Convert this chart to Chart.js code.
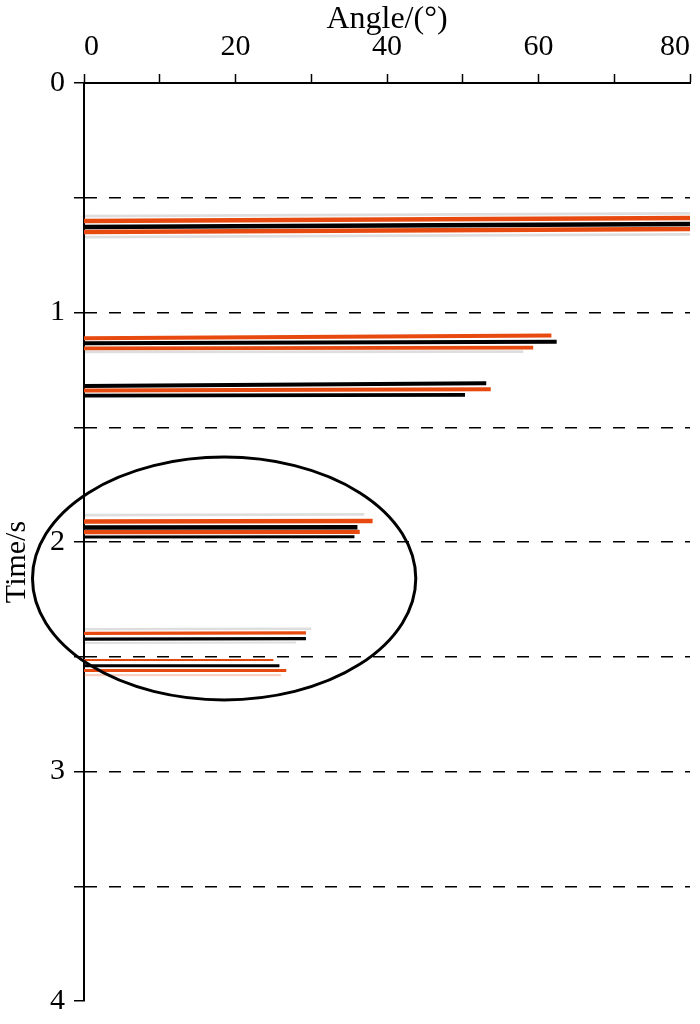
<!DOCTYPE html>
<html lang="en">
<head>
    <meta charset="UTF-8">
    <title>Angle gather</title>
    <style>
        html, body { margin: 0; padding: 0; background: #fff; }
        #wrap { width: 700px; height: 1024px; }
    </style>
</head>
<body>
    <div id="wrap"><canvas id="myChart" width="700" height="1024"></canvas></div>

    <script src="https://cdn.jsdelivr.net/npm/chart.js@4.4.1/dist/chart.umd.min.js"></script>
    <script>
        // Reflection events: time at angle 0, time at far angle, last angle, polarity, amplitude
        var startTimes = [0.601, 0.627, 0.649, 0.580, 0.672,
                          1.112, 1.134, 1.156, 1.172,
                          1.320, 1.340, 1.362,
                          1.883, 1.911, 1.937, 1.957, 1.978,
                          2.380, 2.398, 2.423, 2.440,
                          2.514, 2.539, 2.560, 2.580];
        var endTimes   = [0.588, 0.614, 0.636, 0.568, 0.660,
                          1.100, 1.127, 1.153, 1.170,
                          1.308, 1.334, 1.359,
                          1.880, 1.909, 1.936, 1.956, 1.977,
                          2.378, 2.396, 2.421, 2.438,
                          2.514, 2.539, 2.560, 2.580];
        var endAngles  = [80, 80, 80, 80, 80,
                          61.7, 62.4, 59.3, 58,
                          53.1, 53.7, 50.3,
                          37, 38.1, 36.1, 36.4, 35.7,
                          30, 29.3, 29.3, 28,
                          25, 25.8, 26.7, 26];
        // 1 = positive (red), -1 = negative (black), 0 = faint side lobe
        var polarity   = [1, -1, 1, 0, 0,
                          1, -1, 1, 0,
                          -1, 1, -1,
                          0, 1, -1, 1, -1,
                          0, 1, -1, 0,
                          1, -1, 1, 0];
        var amplitude  = [1, 1, 1, 0.5, 0.5,
                          0.85, 0.85, 0.8, 0.5,
                          0.85, 0.85, 0.8,
                          0.5, 1, 1, 0.9, 0.6,
                          0.4, 0.6, 0.6, 0.3,
                          0.3, 0.6, 0.6, 0.3];

        // axis ticks
        var angleTicks = [0, 20, 40, 60, 80];
        var timeTicks = [0, 1, 2, 3, 4];
        var dashedTimes = [0.5, 1, 1.5, 2, 2.5, 3, 3.5];

        // highlighted region: centre angle, centre time, angle radius, time radius
        var ellipse = [18.5, 2.159, 25.3, 0.529];

        var redColor = '#e8490f';
        var fontFamily = '"Liberation Serif", "Times New Roman", serif';

        var datasets = [];
        for (var i = 0; i < startTimes.length; i++) {
            var col = polarity[i] > 0 ? redColor : (polarity[i] < 0 ? '#000000' : 'rgba(0,0,0,0.13)');
            if (polarity[i] === 0 && i >= 21) col = 'rgba(232,73,15,0.25)';
            datasets.push({
                data: [{ x: 0, y: startTimes[i] }, { x: endAngles[i], y: endTimes[i] }],
                showLine: true,
                borderColor: col,
                borderWidth: 1 + 3.5 * amplitude[i],
                pointRadius: 0,
                borderCapStyle: 'butt',
                fill: false
            });
        }

        var overlayPlugin = {
            id: 'overlay',
            afterDatasetsDraw: function (chart) {
                var xs = chart.scales.x, ys = chart.scales.y;
                var cx = xs.getPixelForValue(ellipse[0]);
                var cy = ys.getPixelForValue(ellipse[1]);
                var rx = xs.getPixelForValue(ellipse[0] + ellipse[2]) - cx;
                var ry = ys.getPixelForValue(ellipse[1] + ellipse[3]) - cy;
                var ctx = chart.ctx;
                ctx.save();
                ctx.beginPath();
                ctx.ellipse(cx, cy, Math.abs(rx), Math.abs(ry), 0, 0, Math.PI * 2);
                ctx.lineWidth = 3;
                ctx.strokeStyle = '#000';
                ctx.stroke();

                // y axis title, a little below the middle like the original
                ctx.translate(17, 562);
                ctx.rotate(-Math.PI / 2);
                ctx.font = '30px ' + fontFamily;
                ctx.fillStyle = '#000';
                ctx.textAlign = 'center';
                ctx.textBaseline = 'middle';
                ctx.fillText('Time/s', 0, 0);
                ctx.restore();
            }
        };

        new Chart(document.getElementById('myChart'), {
            type: 'scatter',
            data: { datasets: datasets },
            plugins: [overlayPlugin],
            options: {
                responsive: false,
                animation: false,
                layout: { padding: { top: 0, left: 0, right: 10, bottom: 23 } },
                plugins: { legend: { display: false }, tooltip: { enabled: false } },
                scales: {
                    x: {
                        type: 'linear',
                        position: 'top',
                        min: 0,
                        max: 80,
                        afterFit: function (scale) {
                            scale.height = 83;
                            scale.paddingLeft = 0;
                            scale.paddingRight = 0;
                        },
                        afterBuildTicks: function (scale) {
                            scale.ticks = [0, 10, 20, 30, 40, 50, 60, 70, 80].map(function (v) { return { value: v }; });
                        },
                        ticks: {
                            color: '#000',
                            padding: 9,
                            maxRotation: 0,
                            align: 'inner',
                            font: { family: fontFamily, size: 30 },
                            callback: function (v) { return angleTicks.indexOf(v) >= 0 ? String(v) : ''; }
                        },
                        grid: {
                            drawOnChartArea: false,
                            drawTicks: true,
                            tickLength: 9,
                            tickColor: '#000',
                            tickWidth: 1.5
                        },
                        border: { display: true, color: '#000', width: 2 },
                        title: {
                            display: true,
                            text: 'Angle/(°)',
                            color: '#000',
                            padding: { top: 0, bottom: 0 },
                            font: { family: fontFamily, size: 32 }
                        }
                    },
                    y: {
                        type: 'linear',
                        reverse: true,
                        min: 0,
                        max: 4,
                        afterFit: function (scale) {
                            scale.width = 84;
                            scale.paddingTop = 0;
                            scale.paddingBottom = 0;
                        },
                        afterBuildTicks: function (scale) {
                            scale.ticks = [0, 0.5, 1, 1.5, 2, 2.5, 3, 3.5, 4].map(function (v) { return { value: v }; });
                        },
                        ticks: {
                            color: '#000',
                            padding: 9,
                            font: { family: fontFamily, size: 30 },
                            callback: function (v) { return timeTicks.indexOf(v) >= 0 ? String(v) : ''; }
                        },
                        grid: {
                            drawOnChartArea: true,
                            color: function (c) {
                                return c.tick && dashedTimes.indexOf(c.tick.value) >= 0 ? '#000' : 'rgba(0,0,0,0)';
                            },
                            lineWidth: 1.5,
                            drawTicks: true,
                            tickLength: 10,
                            tickColor: '#000',
                            tickWidth: 1.5
                        },
                        border: { display: true, color: '#000', width: 2, dash: [12, 12] },
                        title: { display: false }
                    }
                }
            }
        });
    </script>
</body>
</html>
